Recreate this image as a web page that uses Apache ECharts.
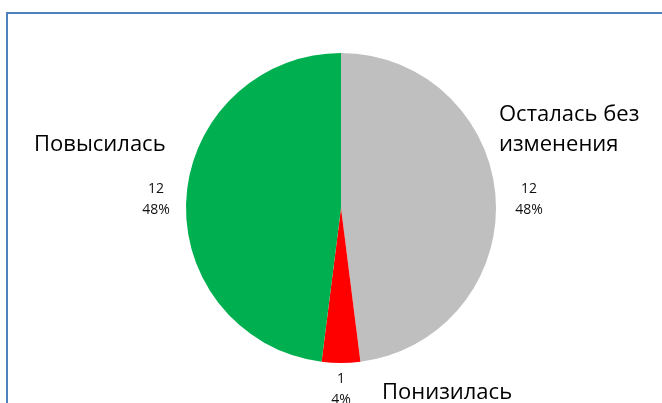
<!DOCTYPE html>
<html>
<head>
<meta charset="utf-8">
<script src="https://cdn.jsdelivr.net/npm/echarts@6/dist/echarts.min.js"></script>
<style>
html,body{margin:0;padding:0;background:#fff;}
#chart{width:662px;height:403px;}
</style>
</head>
<body>
<div id="chart"></div>
<script>
// Data
const categories = ['Осталась без\nизменения', 'Понизилась', 'Повысилась'];
const values = [12, 1, 12];
const colors = ['#bfbfbf', '#ff0000', '#00b050'];

// label placement (text positions only)
const valueLabelPos = [[529, 200], [341, 390], [156, 200]];
const nameLabelPos = [[499, 130, 'left'], [382, 393, 'left'], [34, 145, 'left']];

const data = categories.map((c, i) => ({ name: c, value: values[i], itemStyle: { color: colors[i] } }));
const FONT = '"Open Sans", "Noto Sans", sans-serif';

const chart = echarts.init(document.getElementById('chart'), null, { renderer: 'canvas' });
chart.setOption({
  animation: false,
  backgroundColor: '#ffffff',
  graphic: [{
    type: 'rect',
    shape: { x: 7, y: 13, width: 800, height: 600 },
    style: { fill: 'none', stroke: '#4f81bd', lineWidth: 2 }
  }],
  series: [
    {
      type: 'pie',
      center: [341, 208],
      radius: [0, 155],
      startAngle: 90,
      clockwise: true,
      data: data,
      itemStyle: { borderWidth: 0 },
      emphasis: { disabled: true },
      label: {
        show: true,
        formatter: '{c}\n{d}%',
        fontFamily: FONT,
        fontSize: 14,
        lineHeight: 21,
        color: '#111',
        align: 'center',
        overflow: 'none'
      },
      labelLine: { show: false },
      labelLayout: function (p) {
        const pos = valueLabelPos[p.dataIndex];
        return { x: pos[0], y: pos[1], align: 'center', verticalAlign: 'middle' };
      }
    },
    {
      type: 'pie',
      center: [341, 208],
      radius: [0, 155],
      startAngle: 90,
      clockwise: true,
      silent: true,
      data: categories.map((c, i) => ({ name: c, value: values[i] })),
      itemStyle: { color: 'rgba(0,0,0,0)', borderWidth: 0 },
      emphasis: { disabled: true },
      label: {
        show: true,
        formatter: '{b}',
        fontFamily: FONT,
        fontSize: 22,
        lineHeight: 30,
        color: '#000',
        align: 'left',
        overflow: 'none'
      },
      labelLine: { show: false },
      labelLayout: function (p) {
        const pos = nameLabelPos[p.dataIndex];
        return { x: pos[0], y: pos[1], align: pos[2], verticalAlign: 'middle' };
      }
    }
  ]
});
</script>
</body>
</html>
